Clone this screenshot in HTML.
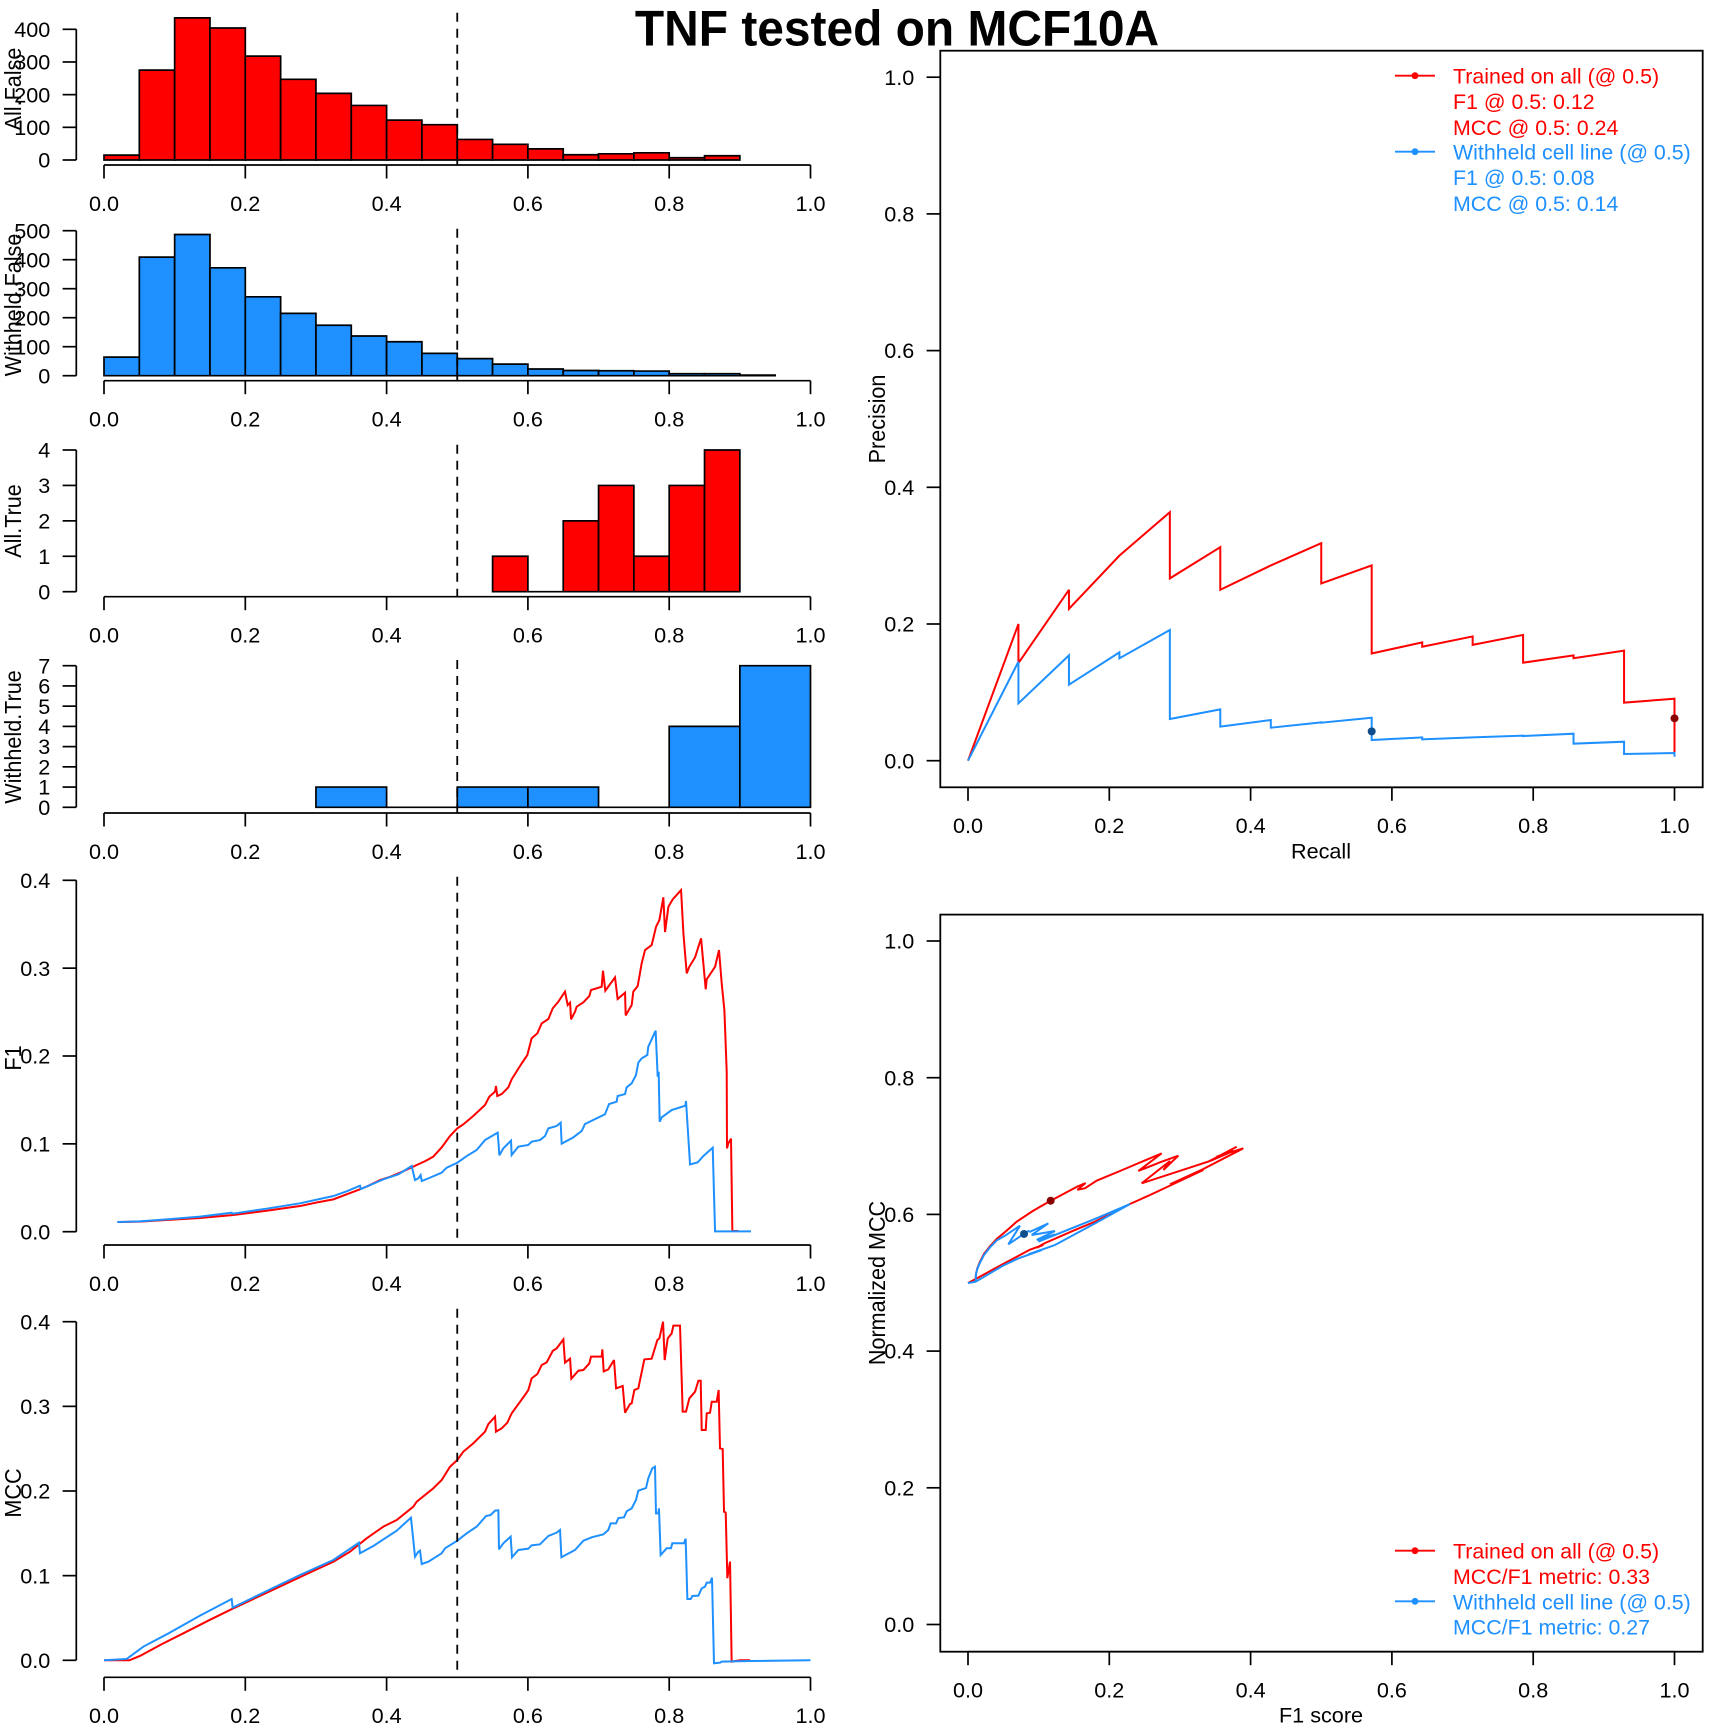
<!DOCTYPE html>
<html lang="en">
<head>
<meta charset="utf-8">
<title>TNF tested on MCF10A</title>
<style>
html,body{margin:0;padding:0;background:#fff}
svg{display:block}
text{font-family:"Liberation Sans",Arial,sans-serif;font-size:21px;fill:#000}
text.rot{font-size:21.6px}
</style>
</head>
<body>
<svg id="figure" xmlns="http://www.w3.org/2000/svg" width="1728" height="1728" viewBox="0 0 1728 1728">
<rect x="0" y="0" width="1728" height="1728" fill="#fff"/>
<g id="plots"></g>
<text transform="translate(897,45.5) scale(0.958,1)" text-anchor="middle" style="font-size:50px;font-weight:bold">TNF tested on MCF10A</text>

<text class="rot" transform="translate(21,89) scale(1.05,1) rotate(-90)" text-anchor="middle">All.False</text>
<text class="rot" transform="translate(21,305) scale(1.05,1) rotate(-90)" text-anchor="middle">Withheld.False</text>
<text class="rot" transform="translate(21,521) scale(1.05,1) rotate(-90)" text-anchor="middle">All.True</text>
<text class="rot" transform="translate(21,737) scale(1.05,1) rotate(-90)" text-anchor="middle">Withheld.True</text>
<text class="rot" transform="translate(21,1058) scale(1.05,1) rotate(-90)" text-anchor="middle">F1</text>
<text class="rot" transform="translate(21,1493) scale(1.05,1) rotate(-90)" text-anchor="middle">MCC</text>
<text class="rot" transform="translate(885,419) scale(1.05,1) rotate(-90)" text-anchor="middle">Precision</text>
<text class="rot" transform="translate(885,1283) scale(1.05,1) rotate(-90)" text-anchor="middle">Normalized MCC</text>
<text transform="translate(1321,858.5) scale(1.03,1)" text-anchor="middle">Recall</text>
<text transform="translate(1321,1722.5) scale(1.03,1)" text-anchor="middle">F1 score</text>

<g>
<g><line x1="1395" x2="1435" y1="75.7" y2="75.7" stroke="#ff0000" stroke-width="1.8"/><circle cx="1415" cy="75.7" r="3.4" fill="#ff0000"/></g>
<g><line x1="1395" x2="1435" y1="151.7" y2="151.7" stroke="#1e90ff" stroke-width="1.8"/><circle cx="1415" cy="151.7" r="3.4" fill="#1e90ff"/></g>
<text transform="translate(1453,83.5) scale(1.018,1)" style="fill:#ff0000">Trained on all (@ 0.5)</text>
<text transform="translate(1453,109) scale(1.018,1)" style="fill:#ff0000">F1 @ 0.5: 0.12</text>
<text transform="translate(1453,135) scale(1.018,1)" style="fill:#ff0000">MCC @ 0.5: 0.24</text>
<text transform="translate(1453,159.5) scale(1.018,1)" style="fill:#1e90ff">Withheld cell line (@ 0.5)</text>
<text transform="translate(1453,185) scale(1.018,1)" style="fill:#1e90ff">F1 @ 0.5: 0.08</text>
<text transform="translate(1453,211) scale(1.018,1)" style="fill:#1e90ff">MCC @ 0.5: 0.14</text>
</g>

<g>
<g><line x1="1395" x2="1435" y1="1550.7" y2="1550.7" stroke="#ff0000" stroke-width="1.8"/><circle cx="1415" cy="1550.7" r="3.4" fill="#ff0000"/></g>
<g><line x1="1395" x2="1435" y1="1601.3" y2="1601.3" stroke="#1e90ff" stroke-width="1.8"/><circle cx="1415" cy="1601.3" r="3.4" fill="#1e90ff"/></g>
<text transform="translate(1453,1558.7) scale(1.018,1)" style="fill:#ff0000">Trained on all (@ 0.5)</text>
<text transform="translate(1453,1584) scale(1.018,1)" style="fill:#ff0000">MCC/F1 metric: 0.33</text>
<text transform="translate(1453,1609.3) scale(1.018,1)" style="fill:#1e90ff">Withheld cell line (@ 0.5)</text>
<text transform="translate(1453,1634.7) scale(1.018,1)" style="fill:#1e90ff">MCC/F1 metric: 0.27</text>
</g>
</svg>
<script>
// ---------- tick labels ----------
const xTickLabels = ["0.0","0.2","0.4","0.6","0.8","1.0"];
const unitTickLabels = ["0.0","0.2","0.4","0.6","0.8","1.0"];
const scoreTickLabels = ["0.0","0.1","0.2","0.3","0.4"];
const allFalseTicks = [0,100,200,300,400];
const withheldFalseTicks = [0,100,200,300,400,500];
const allTrueTicks = [0,1,2,3,4];
const withheldTrueTicks = [0,1,2,3,4,5,6,7];

// ---------- histogram series ----------
const allFalseStart = 0;
const allFalseWidth = 0.05;
const allFalseCounts = [15,275,435,404,318,247,204,167,122,108,63,48,34,16,19,22,7,13];
const withheldFalseStart = 0;
const withheldFalseWidth = 0.05;
const withheldFalseCounts = [64,409,487,372,272,215,174,137,117,77,59,40,23,18,17,16,7,7,2];
const allTrueStart = 0.55;
const allTrueWidth = 0.05;
const allTrueCounts = [1,0,2,3,1,3,4];
const withheldTrueStart = 0.3;
const withheldTrueWidth = 0.1;
const withheldTrueCounts = [1,0,1,1,0,4,7];

// ---------- threshold curves: [threshold, score] ----------
const f1All = [[.0189,.011],[.05,.0115],[.0887,.0133],[.136,.0156],[.1831,.019],[.23,.0239],[.2774,.0292],[.301,.0332],[.3246,.0368],[.3435,.0425],[.3623,.0482],[.3765,.0531],[.3907,.0588],[.405,.0625],[.419,.0672],[.431,.0715],[.4426,.0759],[.455,.0805],[.466,.0854],[.478,.096],[.4897,.1089],[.5,.1176],[.5086,.1222],[.5226,.1317],[.5393,.1442],[.5454,.1537],[.5535,.1594],[.5548,.1658],[.5567,.1544],[.5629,.1567],[.5723,.1643],[.577,.1734],[.5912,.1916],[.5992,.2011],[.6053,.2201],[.6134,.2258],[.6195,.2371],[.629,.2421],[.6351,.2542],[.6431,.2618],[.6525,.2732],[.6563,.258],[.6597,.2607],[.6611,.2417],[.6667,.2504],[.669,.2561],[.6785,.2611],[.687,.2683],[.6893,.2751],[.7044,.2789],[.7063,.2971],[.7096,.2743],[.7233,.2895],[.727,.2648],[.7375,.272],[.7384,.2462],[.7469,.258],[.7492,.2732],[.7554,.2796],[.761,.3054],[.7658,.3206],[.7752,.3263],[.7814,.3472],[.7861,.3548],[.7917,.3806],[.7941,.3411],[.7989,.37],[.805,.3783],[.8168,.3889],[.8201,.3396],[.8248,.2941],[.8285,.3017],[.8366,.3123],[.8451,.3339],[.8517,.2759],[.8531,.2873],[.865,.3017],[.8705,.3206],[.8743,.2827],[.8781,.2523],[.8814,.1821],[.8818,.0949],[.8837,.1006],[.8875,.1059],[.8894,.0008],[.8978,.0008]];
const f1Withheld = [[.0189,.011],[.05,.0118],[.0887,.014],[.136,.0172],[.1807,.0216],[.1817,.0205],[.23,.0262],[.2774,.0323],[.3246,.0406],[.3435,.046],[.3623,.0524],[.3637,.0486],[.3954,.0596],[.4166,.0653],[.4355,.0748],[.4402,.0588],[.4449,.0607],[.4482,.0645],[.4497,.0577],[.4591,.0607],[.4779,.0672],[.485,.0729],[.5,.0785],[.5134,.0861],[.5275,.093],[.5393,.1043],[.5473,.1081],[.5572,.1127],[.5586,.0987],[.5596,.0869],[.5652,.0949],[.5761,.1036],[.577,.0873],[.5865,.0968],[.6006,.0987],[.6053,.1025],[.6171,.1043],[.6242,.1089],[.629,.1176],[.6407,.1203],[.6464,.1241],[.6478,.1002],[.6643,.1074],[.6761,.1146],[.6808,.1226],[.7091,.1336],[.7148,.1453],[.7256,.148],[.727,.1544],[.7375,.1567],[.7398,.1643],[.7469,.1689],[.753,.1783],[.7563,.1924],[.761,.1973],[.769,.2011],[.7704,.2106],[.7808,.2288],[.7837,.1764],[.7851,.1821],[.7865,.1252],[.7893,.1301],[.8035,.1385],[.8229,.1434],[.8238,.1487],[.8295,.0766],[.8403,.0789],[.8483,.0861],[.8616,.0956],[.8649,.0004],[.9158,.0004]];
const mccAll = [[0,0],[.0359,0],[.0509,.0051],[.0815,.019],[.1123,.0319],[.1475,.0468],[.1831,.0614],[.2185,.0752],[.2538,.089],[.2892,.1028],[.3246,.1165],[.3482,.1283],[.3718,.1441],[.3954,.1579],[.4143,.1657],[.4378,.1815],[.4426,.1874],[.466,.2031],[.478,.213],[.4897,.2287],[.5,.2366],[.5086,.2465],[.5226,.2563],[.5393,.2701],[.544,.2791],[.5535,.2878],[.5548,.2701],[.5629,.274],[.5709,.2807],[.577,.2917],[.5958,.3134],[.6006,.3193],[.6053,.3331],[.6134,.3382],[.6195,.3488],[.6266,.352],[.6351,.3654],[.6407,.3685],[.6502,.3791],[.6525,.3516],[.6597,.3563],[.6615,.3327],[.6714,.3421],[.6785,.3429],[.687,.3508],[.6893,.3587],[.7044,.3587],[.7054,.3673],[.7073,.3413],[.7138,.3437],[.7219,.3547],[.7248,.3213],[.7342,.324],[.7375,.2925],[.7446,.3028],[.7469,.3035],[.7507,.3193],[.7563,.3213],[.7648,.3555],[.7752,.3563],[.7832,.3783],[.7861,.3803],[.7913,.4],[.7936,.3547],[.7979,.3803],[.8035,.3862],[.8059,.3953],[.8153,.3953],[.8191,.2937],[.8238,.2937],[.8285,.3094],[.8366,.3173],[.8413,.3303],[.8446,.3303],[.846,.272],[.8517,.272],[.8531,.2917],[.8578,.2925],[.8602,.3055],[.8672,.3055],[.87,.3193],[.8719,.2504],[.8757,.2496],[.8776,.1756],[.88,.1744],[.8823,.0969],[.8861,.1165],[.8884,-.0016],[.9002,0],[.9144,0]];
const mccWithheld = [[0,0],[.0321,.0016],[.0557,.0161],[.0887,.0307],[.1359,.0528],[.1807,.0724],[.1821,.0622],[.2255,.0799],[.2774,.1008],[.3246,.1185],[.3609,.139],[.3623,.1264],[.3812,.135],[.4143,.1531],[.4345,.1685],[.4402,.1224],[.4449,.1283],[.4473,.1295],[.4497,.1138],[.4591,.1165],[.4779,.1264],[.4827,.1323],[.5,.1413],[.5134,.15],[.5275,.1579],[.5408,.1705],[.5473,.1717],[.5535,.1768],[.5582,.1772],[.5591,.1311],[.5652,.1382],[.5756,.1461],[.5775,.1217],[.5865,.1303],[.6006,.1319],[.6053,.1358],[.6171,.137],[.629,.1469],[.6407,.1508],[.6455,.1539],[.6474,.1217],[.6667,.1303],[.6785,.1413],[.6903,.1453],[.7068,.1488],[.7138,.1539],[.7172,.1618],[.7248,.1618],[.7281,.1681],[.7361,.1689],[.7398,.176],[.7469,.1795],[.753,.1894],[.7563,.2004],[.7672,.2035],[.7704,.215],[.7761,.2268],[.7799,.2287],[.7813,.1736],[.7846,.1736],[.7855,.1795],[.7879,.1244],[.7964,.1323],[.8025,.1323],[.8044,.1382],[.8209,.1382],[.8233,.1437],[.8257,.0724],[.8304,.0724],[.8328,.076],[.8413,.0764],[.846,.085],[.8507,.087],[.8531,.0917],[.8578,.0917],[.8606,.0976],[.8634,-.0035],[.8719,-.0028],[.8743,-.0016],[.9144,-.0008],[1,0]];

// ---------- precision-recall: [recall, precision] ----------
const prAll = [[0,0],[.0714,.2],[.0714,.1429],[.1429,.25],[.1429,.2222],[.2143,.3],[.2857,.3636],[.2857,.2667],[.3571,.3125],[.3571,.25],[.4286,.2857],[.5,.3182],[.5,.2593],[.5714,.2857],[.5714,.1569],[.6429,.1731],[.6429,.1667],[.7143,.1818],[.7143,.1695],[.7857,.184],[.7857,.1434],[.8571,.154],[.8571,.15],[.9286,.161],[.9286,.0849],[1,.0907],[1,.006]];
const prWithheld = [[0,0],[.0714,.1449],[.0714,.0839],[.1429,.1541],[.1429,.1112],[.2143,.1585],[.2143,.1498],[.2857,.1912],[.2857,.061],[.3571,.0751],[.3571,.0498],[.4286,.0595],[.4286,.0483],[.5,.0561],[.5,.0556],[.5714,.0629],[.5714,.0302],[.6429,.0341],[.6429,.0312],[.7143,.0341],[.7857,.0366],[.7857,.0361],[.8571,.0395],[.8571,.0249],[.9286,.0278],[.9286,.0098],[1,.0112],[1,.0059]];
const prPointAll = [1,.062];
const prPointWithheld = [.5714,.0429];

// ---------- MCC-F1: [F1, normalized MCC] ----------
const mccF1All = [[.0109,.5055],[.0113,.5128],[.0132,.5211],[.017,.5308],[.0226,.5421],[.0311,.5533],[.0406,.564],[.0547,.5762],[.0689,.5894],[.0925,.6055],[.117,.62],[.1373,.6312],[.1552,.641],[.1665,.6459],[.1548,.6361],[.1654,.6381],[.1821,.6494],[.2151,.6635],[.2741,.6893],[.2411,.6635],[.2718,.6762],[.2977,.6859],[.2765,.665],[.2859,.6781],[.2458,.6455],[.3402,.6772],[.3803,.699],[.3425,.6781],[.3756,.6928],[.352,.6845],[.3897,.6967],[.3331,.6664],[.2859,.644],[.3331,.665],[.2576,.6284],[.2293,.6152],[.1798,.5894],[.1491,.5762],[.108,.5576],[.0972,.5512],[.1066,.5555],[.0878,.5484],[.0486,.5269],[.0109,.5055],[0,.4996]];
const mccF1Withheld = [[.0109,.5015],[.0113,.5128],[.0132,.5205],[.017,.5295],[.0226,.5405],[.0311,.5518],[.0406,.562],[.0524,.5689],[.0736,.5835],[.0571,.5562],[.0854,.5757],[.0878,.5745],[.1137,.5869],[.0901,.5699],[.1231,.5757],[.0972,.5626],[.1231,.5708],[.0995,.5601],[.1798,.5933],[.2293,.6152],[.1798,.5868],[.1231,.5552],[.0854,.5415],[.1043,.5479],[.0712,.5356],[.0486,.5245],[.0109,.5015],[0,.4996]];
const mccF1PointAll = [.117,.62];
const mccF1PointWithheld = [.0793,.5714];

// ---------- drawing ----------
const NS = "http://www.w3.org/2000/svg";
const RED = "#ff0000", BLUE = "#1e90ff", DARKRED = "#8b0000", DARKBLUE = "#104e8b";
const plots = document.getElementById("plots");

function linear(d0, d1, p0, p1) {
  return function (v) { return p0 + (v - d0) / (d1 - d0) * (p1 - p0); };
}
function mk(parent, tag, name, props) {
  const el = document.createElementNS(NS, tag);
  
  
  for (const k in props) el.setAttribute(k, props[k]);
  parent.appendChild(el);
  return el;
}
function seg(parent, name, x1, y1, x2, y2, w) {
  return mk(parent, "line", name, {x1: x1, y1: y1, x2: x2, y2: y2, stroke: "#000", "stroke-width": w || 1.7});
}
function label(parent, name, x, y, str, anchor) {
  const t = mk(parent, "text", name, {transform: "translate(" + x + "," + y + ") scale(1.03,1)", "text-anchor": anchor});
  t.textContent = str;
  return t;
}
function xAxis(parent, sx, axisY, labels) {
  const g = mk(parent, "g", "x-axis", {});
  labels.forEach(function (lab) {
    const px = sx(parseFloat(lab));
    seg(g, "x-tick", px, axisY, px, axisY + 13.5);
    label(g, "x-tick-label", px, axisY + 45.8, lab, "middle");
  });
  seg(g, "x-axis-line", sx(parseFloat(labels[0])), axisY, sx(parseFloat(labels[labels.length - 1])), axisY);
}
function yAxis(parent, sy, labels, axisX, withLine) {
  const g = mk(parent, "g", "y-axis", {});
  labels.forEach(function (lab) {
    const py = sy(parseFloat(lab));
    seg(g, "y-tick", axisX - 13.7, py, axisX, py);
    label(g, "y-tick-label", axisX - 26, py + 7.6, lab, "end");
  });
  if (withLine) seg(g, "y-axis-line", axisX, sy(parseFloat(labels[0])), axisX, sy(parseFloat(labels[labels.length - 1])));
}
function cutoff(parent, sx, y0, y1) {
  mk(parent, "line", "threshold-line", {x1: sx(0.5), x2: sx(0.5), y1: y0, y2: y1, stroke: "#000", "stroke-width": 1.8, "stroke-dasharray": "9 7"});
}
function curve(parent, name, pts, sx, sy, color) {
  const d = pts.map(function (p) { return sx(p[0]).toFixed(2) + "," + sy(p[1]).toFixed(2); }).join(" ");
  mk(parent, "polyline", name, {points: d, fill: "none", stroke: color, "stroke-width": 2, "stroke-linejoin": "miter", "stroke-miterlimit": 3});
}
function dot(parent, name, p, sx, sy, color) {
  mk(parent, "ellipse", name, {cx: sx(p[0]), cy: sy(p[1]), rx: 4, ry: 4, fill: color});
}
function histogram(name, start, width, counts, color, ticks, y0, yTop, axisY, dashTop) {
  const g = mk(plots, "g", name, {});
  const sx = linear(0, 1, 104, 810.5);
  const sy = linear(ticks[0], ticks[ticks.length - 1], y0, yTop);
  counts.forEach(function (c, i) {
    const a = sx(start + i * width), b = sx(start + (i + 1) * width);
    const d = "M" + a + "," + sy(0) + "V" + sy(c) + "H" + b + "V" + sy(0) + "Z";
    mk(g, "path", "bar-" + i, {d: d, fill: color, stroke: "#000", "stroke-width": 1.7});
  });
  xAxis(g, sx, axisY, xTickLabels);
  yAxis(g, sy, ticks.map(String), 76.3, true);
  cutoff(g, sx, dashTop, axisY);
}
function thresholdPanel(name, redPts, bluePts, y0, yTop, axisY, dashTop) {
  const g = mk(plots, "g", name, {});
  const sx = linear(0, 1, 104, 810.5);
  const sy = linear(0, 0.4, y0, yTop);
  xAxis(g, sx, axisY, xTickLabels);
  yAxis(g, sy, scoreTickLabels, 76.3, true);
  curve(g, "curve-trained-on-all", redPts, sx, sy, RED);
  curve(g, "curve-withheld-cell-line", bluePts, sx, sy, BLUE);
  cutoff(g, sx, dashTop, axisY);
}
function boxPanel(name, redPts, bluePts, redDot, blueDot, y0, y1, top, bottom) {
  const g = mk(plots, "g", name, {});
  const sx = linear(0, 1, 968, 1674.5);
  const sy = linear(0, 1, y0, y1);
  curve(g, "curve-trained-on-all", redPts, sx, sy, RED);
  curve(g, "curve-withheld-cell-line", bluePts, sx, sy, BLUE);
  dot(g, "point-trained-on-all", redDot, sx, sy, DARKRED);
  dot(g, "point-withheld-cell-line", blueDot, sx, sy, DARKBLUE);
  xAxis(g, sx, bottom, xTickLabels);
  yAxis(g, sy, unitTickLabels, 940.3, false);
  mk(g, "rect", "plot-box", {x: 940.3, y: top, width: 762.4, height: bottom - top, fill: "none", stroke: "#000", "stroke-width": 1.8});
}

histogram("histogram-all-false", allFalseStart, allFalseWidth, allFalseCounts, RED, allFalseTicks, 160, 29.3, 165, 12.7);
histogram("histogram-withheld-false", withheldFalseStart, withheldFalseWidth, withheldFalseCounts, BLUE, withheldFalseTicks, 375.7, 230.7, 380.7, 228.7);
histogram("histogram-all-true", allTrueStart, allTrueWidth, allTrueCounts, RED, allTrueTicks, 591.7, 450, 596.7, 444.7);
histogram("histogram-withheld-true", withheldTrueStart, withheldTrueWidth, withheldTrueCounts, BLUE, withheldTrueTicks, 807.3, 665.7, 813, 660);
thresholdPanel("f1-by-threshold", f1All, f1Withheld, 1231.7, 880.3, 1245, 876.7);
thresholdPanel("mcc-by-threshold", mccAll, mccWithheld, 1660.3, 1321.7, 1677.3, 1308.7);
boxPanel("precision-recall-plot", prAll, prWithheld, prPointAll, prPointWithheld, 760.7, 77.2, 50.7, 787.3);
boxPanel("mcc-f1-plot", mccF1All, mccF1Withheld, mccF1PointAll, mccF1PointWithheld, 1624.5, 941, 914.6, 1651.7);
</script>
</body>
</html>
